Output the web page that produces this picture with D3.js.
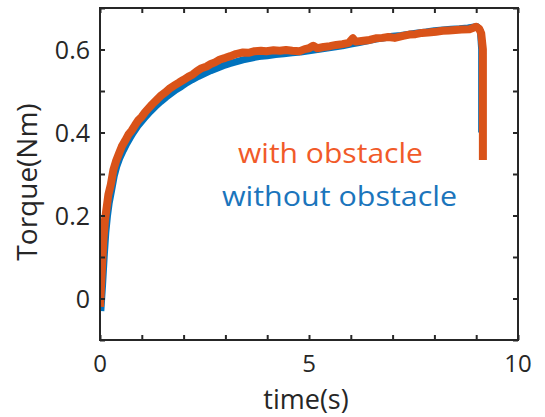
<!DOCTYPE html>
<html>
<head>
<meta charset="utf-8">
<script src="https://cdn.jsdelivr.net/npm/d3@7"></script>
<style>
  html, body { margin: 0; padding: 0; background: #fff; }
  svg { display: block; }
  text { font-family: "Open Sans", "Noto Sans", sans-serif; fill: #262626; }
</style>
</head>
<body>
<script>
// ---- data ----
const withTime = [0.00,0.04,0.08,0.12,0.16,0.20,0.26,0.32,0.38,0.45,0.52,0.60,0.68,0.76,0.84,0.92,1.00,1.08,1.16,1.25,1.35,1.47,1.58,1.68,1.79,1.90,2.00,2.11,2.22,2.32,2.43,2.55,2.65,2.75,2.87,3.00,3.12,3.25,3.42,3.55,3.70,3.85,3.98,4.15,4.30,4.45,4.60,4.78,4.90,5.00,5.10,5.20,5.35,5.50,5.65,5.80,5.95,6.05,6.12,6.30,6.45,6.60,6.75,6.90,7.05,7.25,7.40,7.55,7.70,7.85,8.04,8.20,8.35,8.50,8.65,8.84,8.95,9.00,9.07,9.12,9.16,9.16];
const withTorque = [-0.02,0.06,0.14,0.19,0.22,0.25,0.275,0.31,0.33,0.348,0.366,0.38,0.395,0.405,0.418,0.430,0.438,0.449,0.458,0.468,0.478,0.490,0.498,0.507,0.514,0.521,0.527,0.534,0.540,0.548,0.555,0.559,0.565,0.569,0.576,0.580,0.584,0.589,0.593,0.592,0.596,0.597,0.596,0.598,0.597,0.599,0.597,0.596,0.601,0.603,0.609,0.603,0.606,0.608,0.611,0.613,0.616,0.627,0.619,0.621,0.623,0.627,0.628,0.630,0.628,0.633,0.636,0.637,0.640,0.641,0.643,0.645,0.646,0.647,0.648,0.649,0.653,0.655,0.650,0.639,0.600,0.334];

const withoutTime = [0.02,0.06,0.10,0.14,0.18,0.22,0.28,0.34,0.40,0.48,0.56,0.64,0.72,0.80,0.90,1.00,1.10,1.20,1.32,1.45,1.58,1.70,1.82,1.95,2.08,2.20,2.35,2.50,2.65,2.80,2.95,3.10,3.25,3.42,3.60,3.80,4.00,4.20,4.40,4.60,4.80,5.00,5.20,5.40,5.60,5.80,6.00,6.20,6.40,6.60,6.80,7.00,7.20,7.40,7.60,7.80,8.00,8.20,8.40,8.60,8.80,8.95,9.02,9.10,9.13,9.13];
const withoutTorque = [-0.03,0.03,0.10,0.16,0.20,0.23,0.262,0.295,0.318,0.340,0.357,0.373,0.387,0.400,0.415,0.427,0.439,0.450,0.462,0.474,0.485,0.494,0.503,0.511,0.520,0.527,0.535,0.542,0.549,0.555,0.561,0.566,0.570,0.575,0.579,0.583,0.585,0.588,0.590,0.592,0.594,0.597,0.600,0.603,0.606,0.609,0.613,0.617,0.621,0.625,0.628,0.632,0.634,0.637,0.640,0.642,0.645,0.647,0.649,0.650,0.652,0.654,0.655,0.645,0.600,0.40];

const xTicks = [0,1,2,3,4,5,6,7,8,9,10];
const xTickLabels = [0,5,10];
const yTicks = [-0.1,0,0.1,0.2,0.3,0.4,0.5,0.6,0.7];
const yTickLabels = [0,0.2,0.4,0.6];

const seriesNames = ["with obstacle","without obstacle"];

// ---- layout ----
const W = 545, H = 417;
const L = 100, R = 518, T = 8, B = 340;
const axisColor = "#262626";

const svg = d3.select("body").append("svg").attr("width", W).attr("height", H);

const x = d3.scaleLinear().domain([0,10]).range([L,R]);
const y = d3.scaleLinear().domain([-0.1,0.7]).range([B,T]);

const line = d3.line().x(d => x(d[0])).y(d => y(d[1]));

const blueData = withoutTime.map((t,i) => [t, withoutTorque[i]]);
const orangeData = withTime.map((t,i) => [t, withTorque[i]]);

svg.append("defs").append("clipPath").attr("id","clip")
  .append("rect").attr("x",L).attr("y",T).attr("width",R-L).attr("height",B-T);

const g = svg.append("g").attr("clip-path","url(#clip)");
g.append("path").datum(blueData).attr("d", line)
  .attr("fill","none").attr("stroke","#0072BD").attr("stroke-width",7)
  .attr("stroke-linejoin","round").attr("stroke-linecap","butt");
g.append("path").datum(orangeData).attr("d", line)
  .attr("fill","none").attr("stroke","#D95319").attr("stroke-width",8)
  .attr("stroke-linejoin","round").attr("stroke-linecap","butt");

// ---- axes (MATLAB style box, inward ticks) ----
const tl = 5;
const axB = svg.append("g").attr("transform",`translate(0,${B})`)
  .call(d3.axisBottom(x).tickValues(xTicks).tickSize(-tl).tickFormat(""));
const axT = svg.append("g").attr("transform",`translate(0,${T})`)
  .call(d3.axisTop(x).tickValues(xTicks).tickSize(-tl).tickFormat(""));
const axL = svg.append("g").attr("transform",`translate(${L},0)`)
  .call(d3.axisLeft(y).tickValues(yTicks).tickSize(-tl).tickFormat(""));
const axR = svg.append("g").attr("transform",`translate(${R},0)`)
  .call(d3.axisRight(y).tickValues(yTicks).tickSize(-tl).tickFormat(""));
[axB,axT,axL,axR].forEach(a => {
  a.select(".domain").remove();
  a.selectAll(".tick line").attr("stroke",axisColor).attr("stroke-width",2);
});
svg.append("rect").attr("x",L).attr("y",T).attr("width",R-L).attr("height",B-T)
  .attr("fill","none").attr("stroke",axisColor).attr("stroke-width",2);

// tick labels
svg.selectAll(".xl").data(xTickLabels).enter().append("text")
  .attr("x", d => x(d)).attr("y", 372)
  .attr("text-anchor","middle").attr("font-size",24).text(d => d);
svg.selectAll(".yl").data(yTickLabels).enter().append("text")
  .attr("x", 90).attr("y", d => y(d) + 9)
  .attr("text-anchor","end").attr("font-size",25).text(d => d);

// axis titles
svg.append("text").attr("x",306).attr("y",409).attr("text-anchor","middle")
  .attr("font-size",27).text("time(s)");
svg.append("text").attr("transform","translate(37,182) rotate(-90)")
  .attr("text-anchor","middle").attr("font-size",28).text("Torque(Nm)");

// legend text
svg.append("text").attr("x",238).attr("y",163).attr("font-size",27)
  .attr("textLength",185).attr("lengthAdjust","spacingAndGlyphs")
  .style("fill","#F15A29").text(seriesNames[0]);
svg.append("text").attr("x",222).attr("y",206).attr("font-size",27)
  .attr("textLength",235).attr("lengthAdjust","spacingAndGlyphs")
  .style("fill","#1B75BC").text(seriesNames[1]);
</script>
</body>
</html>
